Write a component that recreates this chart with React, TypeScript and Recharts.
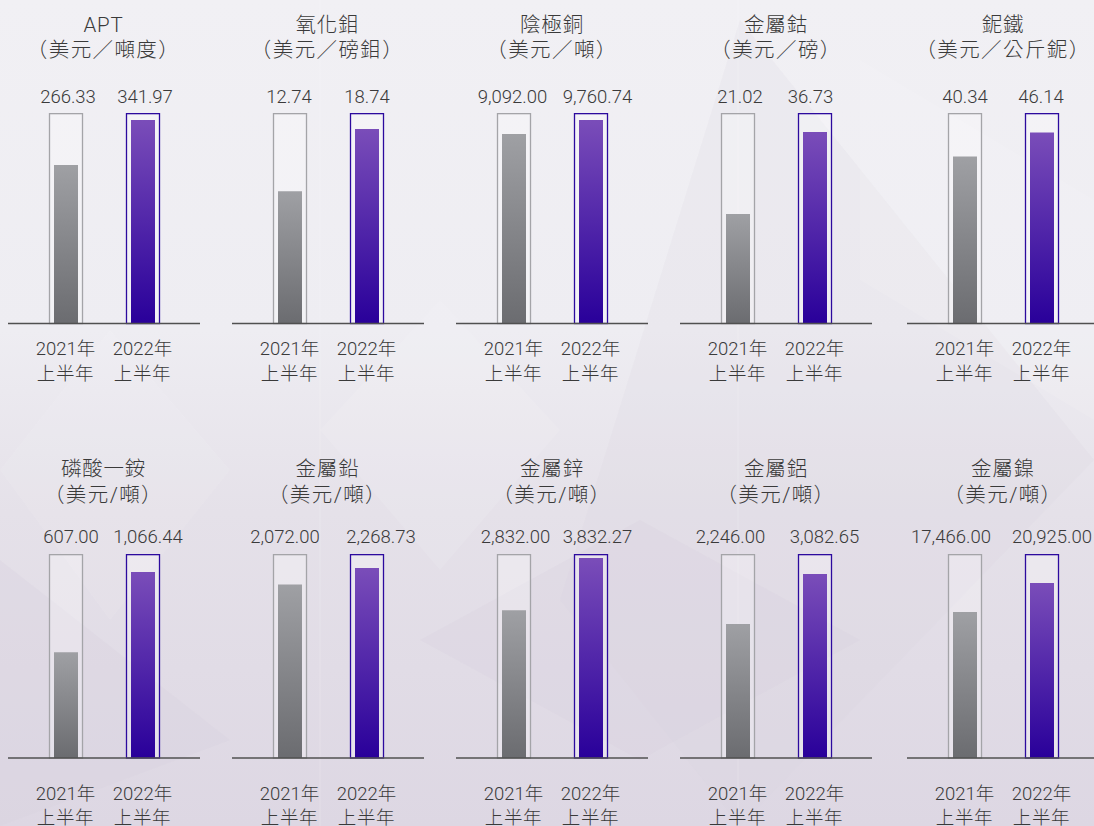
import React from 'react';
import { BarChart, Bar, XAxis, YAxis, Cell, LabelList } from 'recharts';

// ---------- data ----------
const periods = ['2021年', '2022年'];
const periodSub = '上半年';
const metalNames = ['APT', '氧化鉬', '陰極銅', '金屬鈷', '鈮鐵', '磷酸一銨', '金屬鉛', '金屬鋅', '金屬鋁', '金屬鎳'];
const unitLabels = [
  '（美元／噸度）',
  '（美元／磅鉬）',
  '（美元／噸）',
  '（美元／磅）',
  '（美元／公斤鈮）',
  '（美元/噸）',
  '（美元/噸）',
  '（美元/噸）',
  '（美元/噸）',
  '（美元/噸）',
];
const values2021 = [266.33, 12.74, 9092.0, 21.02, 40.34, 607.0, 2072.0, 2832.0, 2246.0, 17466.0];
const values2022 = [341.97, 18.74, 9760.74, 36.73, 46.14, 1066.44, 2268.73, 3832.27, 3082.65, 20925.0];
const scaleMax = [353.7, 20.28, 10096, 40.37, 50.86, 1169.6, 2436, 3909, 3418, 24393];

// ---------- layout / style ----------
const FONT = "Roboto, 'Liberation Sans', Arial, 'Noto Sans CJK TC', sans-serif";
const TEXT = '#3a3a3a';
const WEIGHT = 300;
const panelCenters = [103.5, 327.5, 552, 776, 1003];
const rows = [
  { outlineTop: 113, plotH: 210.5, tickGap: 31.5, titleY: 32, unitY: 57, valueGap: 10 },
  { outlineTop: 554, plotH: 204, tickGap: 41.5, titleY: 476, unitY: 502, valueGap: 11 },
];
const labelDx = [
  [2, 2], [-1, 0], [-1.5, 6.5], [2, -4.5], [0, -1],
  [5, 5], [-5, 14], [1.5, 6.5], [-7.5, 9.5], [-14, 10],
];
const PLOT_W = 192;
const TOP_M = 40;
const AXIS_H = 75;

const fmt = (v: number) =>
  v.toLocaleString('en-US', { minimumFractionDigits: 2, maximumFractionDigits: 2 });

function Panel({ i }: { i: number }) {
  const row = rows[i < 5 ? 0 : 1];
  const center = panelCenters[i % 5];
  const data = periods.map((p, k) => ({ period: p, value: k === 0 ? values2021[i] : values2022[i] }));
  const baseY = TOP_M + row.plotH;

  const renderTick = (props: any) => {
    const { x, payload } = props;
    return (
      <text
        x={x}
        y={baseY + row.tickGap}
        textAnchor="middle"
        fill={TEXT}
        fontSize={18.5}
        fontWeight={WEIGHT}
        fontFamily={FONT}
      >
        <tspan x={x}>{payload.value}</tspan>
        <tspan x={x} dy={24.5} letterSpacing={0.6}>{periodSub}</tspan>
      </text>
    );
  };

  const renderOutline = (props: any) => {
    const { x, y, width, height, index } = props;
    return (
      <rect
        key={`o-${index}`}
        x={x - 4.5}
        y={y + 0.65}
        width={width + 9}
        height={height - 0.65}
        fill="rgba(255,255,255,0.28)"
        stroke={index === 0 ? '#a4a4a8' : '#2c0a9e'}
        strokeWidth={1.3}
      />
    );
  };

  const renderValue = (props: any) => {
    const vb = props.viewBox || props;
    const x = (vb.x ?? props.x) + (vb.width ?? props.width) / 2;
    const idx = props.index ?? 0;
    return (
      <text
        key={`v-${idx}`}
        x={x + labelDx[i][idx]}
        y={TOP_M - row.valueGap}
        textAnchor="middle"
        fill={TEXT}
        fontSize={18.5}
        fontWeight={WEIGHT}
        fontFamily={FONT}
      >
        {fmt(Number(props.value))}
      </text>
    );
  };

  return (
    <div style={{ position: 'absolute', left: center - PLOT_W / 2, top: row.outlineTop - TOP_M }}>
      <BarChart
        width={PLOT_W}
        height={TOP_M + row.plotH + AXIS_H}
        data={data}
        margin={{ top: TOP_M, right: 0, bottom: 0, left: 0 }}
      >
        <XAxis
          dataKey="period"
          padding={{ left: 19, right: 19 }}
          tickLine={false}
          axisLine={{ stroke: '#505050', strokeWidth: 1.3 }}
          tick={renderTick}
          interval={0}
          height={AXIS_H}
        />
        <YAxis hide domain={[0, scaleMax[i]]} allowDataOverflow />
        <Bar dataKey="value" barSize={24} background={renderOutline} isAnimationActive={false}>
          {data.map((d, k) => (
            <Cell key={d.period} fill={k === 0 ? 'url(#gGray)' : 'url(#gPurple)'} />
          ))}
          <LabelList dataKey="value" content={renderValue} />
        </Bar>
      </BarChart>
    </div>
  );
}

export default function App() {
  return (
    <div
      style={{
        position: 'absolute',
        left: 0,
        top: 0,
        width: 1094,
        height: 826,
        overflow: 'hidden',
        background: 'linear-gradient(180deg, #f1f0f4 0%, #eeedf2 40%, #e5e1e9 62%, #ddd7e3 100%)',
        fontFamily: FONT,
      }}
    >
      <svg width={1094} height={826} style={{ position: 'absolute', left: 0, top: 0 }}>
        <defs>
          <linearGradient id="gGray" x1="0" y1="0" x2="0" y2="1">
            <stop offset="0%" stopColor="#9fa0a4" />
            <stop offset="100%" stopColor="#6b6c70" />
          </linearGradient>
          <linearGradient id="gPurple" x1="0" y1="0" x2="0" y2="1">
            <stop offset="0%" stopColor="#7a4db9" />
            <stop offset="100%" stopColor="#29009a" />
          </linearGradient>
        </defs>
        <polygon points="0,470 110,330 230,470 110,620" fill="#ffffff" opacity={0.08} />
        <polygon points="320,430 440,300 560,430 440,570" fill="#ffffff" opacity={0.1} />
        <polygon points="740,20 1094,460 740,826 560,600" fill="#d9d2e0" opacity={0.18} />
        <polygon points="0,560 230,740 0,826" fill="#d6cfdd" opacity={0.3} />
        <polygon points="420,640 640,520 860,640 640,760" fill="#d8d1df" opacity={0.28} />
        <polygon points="860,60 1094,200 1094,420 860,280" fill="#ffffff" opacity={0.1} />
        <line x1={320} y1={0} x2={320} y2={826} stroke="#ffffff" strokeOpacity={0.2} />
        <line x1={738} y1={0} x2={738} y2={826} stroke="#ffffff" strokeOpacity={0.2} />
      </svg>
      {metalNames.map((_, i) => (
        <Panel key={i} i={i} />
      ))}
      <svg width={1094} height={826} style={{ position: 'absolute', left: 0, top: 0, pointerEvents: 'none' }}>
        {metalNames.map((name, i) => {
          const row = rows[i < 5 ? 0 : 1];
          const cx = panelCenters[i % 5];
          return (
            <g key={name}>
              <text
                x={cx}
                y={row.titleY}
                textAnchor="middle"
                fill={TEXT}
                fontSize={20.5}
                fontWeight={WEIGHT}
                fontFamily={FONT}
                letterSpacing={0.8}
              >
                {name}
              </text>
              <text
                x={cx}
                y={row.unitY}
                textAnchor="middle"
                fill={TEXT}
                fontSize={20.5}
                fontWeight={WEIGHT}
                fontFamily={FONT}
                letterSpacing={1.4}
              >
                {unitLabels[i]}
              </text>
            </g>
          );
        })}
      </svg>
    </div>
  );
}
